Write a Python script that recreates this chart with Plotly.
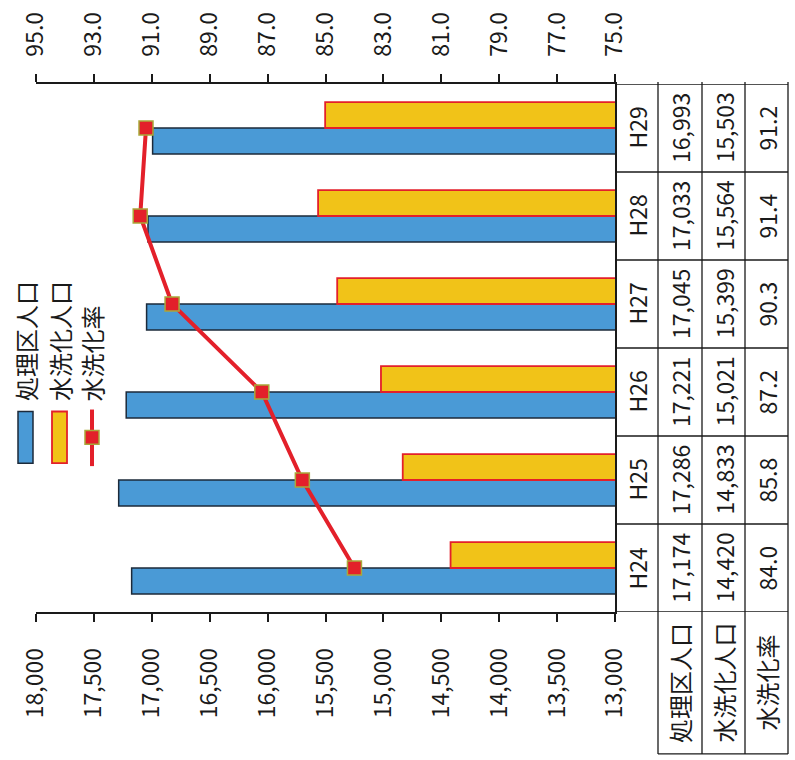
import plotly.graph_objects as go

# ---- data ----
years = ["H24", "H25", "H26", "H27", "H28", "H29"]
served_pop = [17174, 17286, 17221, 17045, 17033, 16993]      # 処理区人口
flush_pop = [14420, 14833, 15021, 15399, 15564, 15503]       # 水洗化人口
flush_rate = [84.0, 85.8, 87.2, 90.3, 91.4, 91.2]            # 水洗化率
row_labels = ["処理区人口", "水洗化人口", "水洗化率"]
pop_ticks = list(range(13000, 18001, 500))
rate_ticks = [75.0, 77.0, 79.0, 81.0, 83.0, 85.0, 87.0, 89.0, 91.0, 93.0, 95.0]

# ---- page geometry (pixels) ----
W, H = 795, 760
PL, PR, PT, PB = 36, 615, 80, 612          # plot area edges
COLS = [615, 658, 702, 745, 788]           # table column edges
HEAD_BOTTOM = 755

BLUE = "#4a9ad6"
BLUE_EDGE = "#1c2a3a"
YELLOW = "#f1c318"
RED = "#e3202a"
MARK_EDGE = "#a9a83a"
INK = "#1a1a1a"
FONT = "Noto Sans CJK JP"
FS_NUM = 23
FS_JP = 24


def px(xp):
    return (xp - PL) / (PR - PL)


def py(yp):
    return (PB - yp) / (PB - PT)


fig = go.Figure()

fig.add_trace(go.Bar(
    y=years, x=served_pop, orientation="h", name=row_labels[0],
    marker=dict(color=BLUE, line=dict(color=BLUE_EDGE, width=1.5)),
))
fig.add_trace(go.Bar(
    y=years, x=flush_pop, orientation="h", name=row_labels[1],
    marker=dict(color=YELLOW, line=dict(color=RED, width=1.8)),
))
fig.add_trace(go.Scatter(
    y=years, x=flush_rate, xaxis="x2", yaxis="y", name=row_labels[2],
    mode="lines+markers",
    line=dict(color=RED, width=4),
    marker=dict(symbol="square", size=14, color=RED,
                line=dict(color=MARK_EDGE, width=1.5)),
    cliponaxis=False,
))

shapes = []
annotations = []
line_style = dict(color=INK, width=1.3)

# table: horizontal rules between year rows
for i in range(len(years) + 1):
    shapes.append(dict(type="line", xref="paper", yref="y",
                       x0=px(COLS[0]), x1=px(COLS[-1]), y0=i - 0.5, y1=i - 0.5,
                       line=line_style))
# table: vertical rules
for c in COLS[1:]:
    shapes.append(dict(type="line", xref="paper", yref="paper",
                       x0=px(c), x1=px(c), y0=py(HEAD_BOTTOM), y1=py(PT - 2),
                       line=line_style))
shapes.append(dict(type="line", xref="paper", yref="paper",
                   x0=px(COLS[1]), x1=px(COLS[-1]),
                   y0=py(HEAD_BOTTOM), y1=py(HEAD_BOTTOM), line=line_style))

centers = [(COLS[k] + COLS[k + 1]) / 2 for k in range(4)]


def cell(text, xc, y, yref, size):
    annotations.append(dict(text=text, x=px(xc), y=y, xref="paper", yref=yref,
                            textangle=-90, showarrow=False,
                            xanchor="center", yanchor="middle",
                            font=dict(size=size, color=INK, family=FONT)))


for i, yr in enumerate(years):
    cell(yr, centers[0], yr, "y", FS_NUM)
    cell(f"{served_pop[i]:,}", centers[1], yr, "y", FS_NUM)
    cell(f"{flush_pop[i]:,}", centers[2], yr, "y", FS_NUM)
    cell(f"{flush_rate[i]:.1f}", centers[3], yr, "y", FS_NUM)
for k, lab in enumerate(row_labels):
    cell(lab, centers[k + 1], py((PB + HEAD_BOTTOM) / 2), "paper", FS_JP)

# legend (drawn rotated)
leg_y0, leg_y1 = 410, 462
shapes.append(dict(type="rect", xref="paper", yref="paper",
                   x0=px(18), x1=px(33), y0=py(leg_y1), y1=py(leg_y0),
                   fillcolor=BLUE, line=dict(color=BLUE_EDGE, width=1.5)))
shapes.append(dict(type="rect", xref="paper", yref="paper",
                   x0=px(52), x1=px(67), y0=py(leg_y1), y1=py(leg_y0),
                   fillcolor=YELLOW, line=dict(color=RED, width=1.8)))
shapes.append(dict(type="line", xref="paper", yref="paper",
                   x0=px(92), x1=px(92), y0=py(465), y1=py(408),
                   line=dict(color=RED, width=4)))
shapes.append(dict(type="rect", xref="paper", yref="paper",
                   x0=px(85), x1=px(99), y0=py(443), y1=py(429),
                   fillcolor=RED, line=dict(color=MARK_EDGE, width=1.5)))
for xc, lab in zip([25.5, 59.5, 92], row_labels):
    annotations.append(dict(text=lab, x=px(xc), y=py(402), xref="paper", yref="paper",
                            textangle=-90, showarrow=False,
                            xanchor="center", yanchor="bottom",
                            font=dict(size=FS_JP, color=INK, family=FONT)))

axis_common = dict(showline=True, linecolor=INK, linewidth=1.5,
                   ticks="outside", ticklen=8, tickwidth=1.5, tickcolor=INK,
                   showgrid=False, zeroline=False, tickangle=-90,
                   tickfont=dict(size=FS_NUM, color=INK, family=FONT))

fig.update_layout(
    width=W, height=H,
    margin=dict(l=PL, r=W - PR, t=PT, b=H - PB, pad=0),
    paper_bgcolor="white", plot_bgcolor="white",
    font=dict(family=FONT, color=INK),
    showlegend=False,
    barmode="group", bargap=0.41, bargroupgap=0,
    xaxis=dict(range=[18000, 13000], tickvals=pop_ticks, tickformat=",d",
               side="bottom", ticklabelstandoff=17, **axis_common),
    xaxis2=dict(range=[95, 75], tickvals=rate_ticks, tickformat=".1f",
                overlaying="x", side="top", anchor="y",
                ticklabelstandoff=13, **axis_common),
    yaxis=dict(type="category", categoryorder="array", categoryarray=years,
               range=[-0.5, len(years) - 0.5], side="right",
               showline=True, linecolor=INK, linewidth=1.5,
               showticklabels=False, ticks="", showgrid=False, zeroline=False),
    shapes=shapes,
    annotations=annotations,
)

fig.write_html("out.html")
